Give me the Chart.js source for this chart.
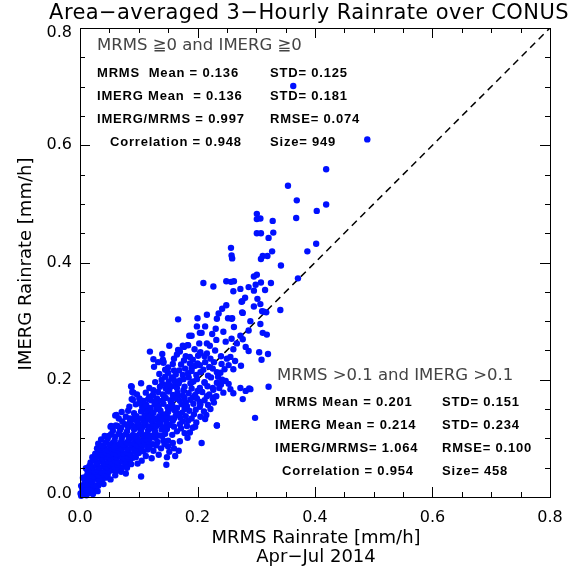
<!DOCTYPE html>
<html>
<head>
<meta charset="utf-8">
<script src="https://cdn.jsdelivr.net/npm/chart.js@4.4.1/dist/chart.umd.min.js"></script>
<style>
  html, body { margin: 0; padding: 0; background: #fff; }
  #wrap { width: 582px; height: 569px; }
</style>
</head>
<body>
<div id="wrap"><canvas id="rain" width="582" height="569"></canvas></div>
<script>
// Area-averaged 3-hourly rainrate, MRMS (x) vs IMERG (y), mm/h
// values, [mrms, imerg]

// dense cluster near the origin (imerg < 0.10)
const coreLow = [
  [0.002,0.002],[0.006,0.004],[0.011,0.003],[0.004,0.009],[0.009,0.008],[0.015,0.007],[0.019,0.010],[0.001,0.006],[0.013,0.011],
  [0.004,0.015],[0.010,0.016],[0.016,0.014],[0.022,0.013],[0.027,0.017],[0.007,0.022],[0.013,0.021],[0.019,0.023],[0.025,0.020],[0.031,0.019],[0.034,0.024],[0.002,0.019],
  [0.008,0.028],[0.014,0.030],[0.020,0.027],[0.026,0.031],[0.032,0.028],[0.038,0.030],[0.044,0.033],[0.011,0.036],[0.017,0.038],[0.023,0.035],[0.029,0.039],[0.035,0.036],[0.041,0.038],[0.047,0.037],[0.005,0.033],
  [0.013,0.044],[0.019,0.047],[0.025,0.043],[0.031,0.046],[0.037,0.042],[0.043,0.045],[0.049,0.043],[0.055,0.046],[0.061,0.044],[0.067,0.048],[0.016,0.053],[0.022,0.051],[0.028,0.054],[0.034,0.050],[0.040,0.053],[0.046,0.051],[0.052,0.054],[0.058,0.052],[0.064,0.055],[0.072,0.051],[0.010,0.049],
  [0.018,0.059],[0.024,0.062],[0.030,0.058],[0.036,0.061],[0.042,0.057],[0.048,0.060],[0.054,0.058],[0.060,0.062],[0.066,0.059],[0.072,0.061],[0.078,0.058],[0.085,0.063],[0.021,0.068],[0.027,0.066],[0.033,0.069],[0.039,0.065],[0.045,0.068],[0.051,0.066],[0.057,0.069],[0.063,0.067],[0.069,0.070],[0.075,0.066],[0.081,0.069],[0.090,0.067],
  [0.026,0.074],[0.032,0.077],[0.038,0.073],[0.044,0.076],[0.050,0.072],[0.056,0.075],[0.062,0.073],[0.068,0.077],[0.074,0.074],[0.080,0.076],[0.086,0.073],[0.093,0.077],[0.100,0.075],[0.108,0.078],
  [0.029,0.083],[0.035,0.081],[0.041,0.084],[0.047,0.080],[0.053,0.083],[0.059,0.081],[0.065,0.084],[0.071,0.082],[0.077,0.085],[0.083,0.081],[0.089,0.084],[0.096,0.082],[0.104,0.084],[0.115,0.081],
  [0.125,0.079],[0.138,0.083],[0.150,0.086],[0.152,0.077],[0.160,0.083],[0.168,0.079],[0.148,0.068],[0.134,0.072],[0.122,0.066],[0.112,0.070],[0.162,0.070],
  [0.031,0.091],[0.038,0.088],[0.044,0.093],[0.050,0.089],[0.056,0.092],[0.062,0.088],[0.068,0.091],[0.074,0.089],[0.080,0.093],[0.086,0.090],[0.092,0.092],[0.098,0.088],[0.104,0.091],[0.110,0.089],[0.117,0.093],[0.124,0.090],[0.132,0.094],
  [0.036,0.098],[0.047,0.099],[0.059,0.097],[0.071,0.099],[0.083,0.098],[0.095,0.099],[0.107,0.097],[0.119,0.100],[0.142,0.096],[0.158,0.092],[0.170,0.095],
  [0.104,0.035],[0.147,0.055],[0.207,0.092]
];

// extra points filling gaps in the solid part of the cloud
const coreFill = [
  [0.058,0.086],[0.070,0.094],[0.088,0.101],[0.100,0.097],[0.112,0.099],[0.128,0.101],[0.140,0.104],[0.150,0.096],[0.130,0.088],[0.144,0.090],[0.118,0.085],
  [0.095,0.068],[0.105,0.062],[0.087,0.056],[0.080,0.050],[0.098,0.057],[0.060,0.037],[0.052,0.030],[0.070,0.043],[0.078,0.040],[0.040,0.022],[0.030,0.010],[0.022,0.005],
  [0.100,0.118],[0.112,0.131],[0.124,0.117],[0.136,0.132],[0.148,0.116],[0.160,0.134],[0.172,0.117],[0.184,0.130],[0.194,0.141],[0.178,0.150],[0.166,0.142],[0.154,0.151],[0.142,0.141],[0.130,0.150],[0.118,0.143],
  [0.107,0.161],[0.118,0.171],[0.131,0.160],[0.143,0.172],[0.155,0.161],[0.167,0.173],[0.180,0.161],[0.192,0.170],[0.204,0.162],[0.216,0.172],[0.228,0.161],
  [0.125,0.182],[0.140,0.193],[0.152,0.183],[0.164,0.194],[0.176,0.182],[0.188,0.194],[0.200,0.181],[0.212,0.196],[0.226,0.186],[0.240,0.192],
  [0.145,0.217],[0.160,0.216],[0.175,0.208],[0.190,0.220],[0.205,0.213],[0.220,0.222],[0.233,0.213],
  [0.140,0.244],[0.160,0.236],[0.170,0.248],[0.195,0.252],[0.212,0.240],[0.230,0.250],[0.240,0.240],[0.264,0.232],
  [0.225,0.278],[0.248,0.265],[0.262,0.290],[0.290,0.300],[0.296,0.325]
];

// body of the cloud (imerg 0.10 - 0.25)
const coreMid = [
  [0.042,0.104],[0.053,0.107],[0.060,0.103],[0.066,0.108],[0.072,0.104],[0.078,0.107],[0.084,0.103],[0.090,0.106],[0.096,0.104],[0.102,0.108],[0.108,0.105],[0.114,0.107],[0.120,0.104],[0.127,0.108],[0.134,0.105],[0.145,0.108],[0.157,0.106],[0.183,0.101],
  [0.056,0.113],[0.068,0.114],[0.080,0.112],[0.092,0.115],[0.104,0.113],[0.116,0.114],[0.128,0.112],[0.139,0.115],[0.165,0.112],[0.178,0.109],[0.187,0.110],
  [0.052,0.120],[0.061,0.122],[0.070,0.118],[0.076,0.124],[0.082,0.119],[0.088,0.123],[0.094,0.120],[0.100,0.124],[0.106,0.119],[0.112,0.123],[0.118,0.120],[0.124,0.125],[0.130,0.121],[0.137,0.124],[0.144,0.119],[0.152,0.123],[0.160,0.120],[0.170,0.124],[0.182,0.121],[0.192,0.118],[0.196,0.120],
  [0.072,0.129],[0.085,0.128],[0.097,0.130],[0.109,0.128],[0.121,0.130],[0.133,0.129],[0.147,0.128],[0.158,0.130],[0.175,0.129],[0.198,0.127],[0.233,0.122],[0.213,0.133],
  [0.066,0.134],[0.078,0.137],[0.090,0.133],[0.096,0.138],[0.103,0.134],[0.110,0.139],[0.116,0.135],[0.122,0.140],[0.128,0.134],[0.135,0.138],[0.141,0.133],[0.148,0.137],[0.155,0.134],[0.163,0.139],[0.171,0.135],[0.180,0.138],[0.190,0.134],[0.205,0.137],[0.215,0.140],
  [0.071,0.145],[0.082,0.147],[0.092,0.143],[0.104,0.146],[0.113,0.148],[0.125,0.144],[0.137,0.147],[0.150,0.145],[0.161,0.148],[0.174,0.144],[0.186,0.147],[0.197,0.149],[0.211,0.146],[0.222,0.150],
  [0.084,0.154],[0.095,0.158],[0.106,0.153],[0.113,0.157],[0.120,0.152],[0.127,0.158],[0.134,0.154],[0.142,0.159],[0.149,0.153],[0.157,0.157],[0.165,0.152],[0.173,0.158],[0.182,0.155],[0.193,0.159],[0.204,0.154],[0.218,0.157],[0.205,0.158],
  [0.090,0.166],[0.121,0.165],[0.131,0.168],[0.139,0.164],[0.146,0.169],[0.154,0.165],[0.162,0.168],[0.170,0.164],[0.178,0.169],[0.188,0.166],[0.199,0.168],[0.212,0.165],[0.226,0.167],[0.228,0.170],
  [0.097,0.175],[0.112,0.178],[0.124,0.174],[0.133,0.179],[0.141,0.175],[0.150,0.180],[0.158,0.174],[0.166,0.178],[0.175,0.173],[0.185,0.177],[0.196,0.174],[0.208,0.179],[0.220,0.175],[0.232,0.172],
  [0.118,0.186],[0.136,0.188],[0.146,0.185],[0.156,0.189],[0.165,0.186],[0.178,0.188],[0.190,0.185],[0.217,0.189],
  [0.104,0.194],[0.128,0.196],[0.139,0.200],[0.151,0.197],[0.158,0.203],[0.170,0.199],[0.185,0.204],[0.199,0.201],[0.223,0.204],
  [0.135,0.210],[0.150,0.212],[0.163,0.209],[0.184,0.211],[0.198,0.208],[0.218,0.207],[0.235,0.205],[0.248,0.198],
  [0.126,0.222],[0.133,0.230],[0.150,0.221],[0.158,0.227],[0.172,0.226],[0.187,0.228],[0.196,0.224],[0.213,0.230],[0.222,0.236],[0.180,0.240],[0.205,0.247],[0.246,0.218],[0.253,0.225]
];

// individually read points around the edges of the cloud
const edgePoints = [
  [0.049,0.104],[0.060,0.139],[0.053,0.121],[0.064,0.121],[0.085,0.134],[0.098,0.128],[0.062,0.140],
  [0.087,0.189],[0.089,0.179],[0.091,0.178],[0.088,0.188],[0.101,0.168],[0.108,0.164],[0.101,0.160],[0.116,0.167],[0.128,0.162],[0.102,0.166],[0.088,0.167],
  [0.145,0.205],[0.156,0.204],[0.148,0.191],[0.161,0.198],[0.168,0.194],[0.176,0.201],
  [0.169,0.216],[0.179,0.219],[0.190,0.215],[0.204,0.225],[0.210,0.217],[0.226,0.219],[0.239,0.212],[0.242,0.200],[0.233,0.195],
  [0.193,0.197],[0.204,0.186],[0.212,0.195],[0.227,0.183],[0.237,0.186],[0.244,0.178],[0.253,0.193],[0.256,0.184],[0.261,0.177],[0.277,0.167],
  [0.273,0.186],[0.288,0.185],[0.282,0.181],[0.321,0.188],[0.290,0.184],[0.298,0.135],[0.233,0.122],
  [0.141,0.234],[0.142,0.229],[0.125,0.235],[0.142,0.231],[0.165,0.243],[0.177,0.233],[0.192,0.234],[0.201,0.241],[0.216,0.245],[0.228,0.230],[0.241,0.227],
  [0.250,0.236],[0.256,0.239],[0.261,0.218],[0.274,0.224],[0.187,0.239],[0.200,0.228],[0.204,0.245],
  [0.119,0.248],[0.152,0.258],[0.167,0.251],[0.177,0.256],[0.184,0.259],[0.175,0.258],[0.183,0.259],[0.221,0.258],
  [0.258,0.270],[0.267,0.262],[0.261,0.252],[0.282,0.256],[0.287,0.249],[0.305,0.247],[0.320,0.244],[0.309,0.234],
  [0.203,0.262],[0.216,0.262],[0.232,0.268],[0.186,0.275],[0.207,0.280],[0.190,0.275],[0.204,0.280],[0.244,0.282],
  [0.273,0.275],[0.277,0.269],[0.287,0.284],[0.311,0.280],[0.318,0.277],[0.307,0.295],
  [0.199,0.291],[0.213,0.291],[0.231,0.287],[0.233,0.304],[0.259,0.305],[0.252,0.305],[0.258,0.304],
  [0.167,0.303],[0.200,0.305],[0.216,0.311],[0.236,0.313],[0.242,0.321],[0.249,0.327],[0.276,0.315],[0.277,0.314],
  [0.310,0.317],[0.317,0.315],[0.313,0.316],[0.341,0.319],[0.307,0.329],[0.276,0.334],[0.281,0.340],[0.275,0.333],
  [0.302,0.338],[0.296,0.352],[0.315,0.353],[0.261,0.351],[0.273,0.355],[0.287,0.358],
  [0.210,0.365],[0.227,0.359],[0.249,0.368],[0.257,0.367],[0.262,0.368],[0.296,0.376],[0.301,0.379],[0.299,0.362],[0.308,0.366],[0.325,0.365],[0.371,0.373]
];

// upper part: the few large events
const upperPoints = [
  [0.342,0.395],[0.257,0.425],[0.258,0.412],[0.259,0.407],[0.387,0.419],[0.402,0.432],[0.311,0.411],[0.319,0.411],[0.308,0.406],[0.327,0.419],
  [0.301,0.450],[0.308,0.450],[0.329,0.451],[0.321,0.442],
  [0.301,0.483],[0.301,0.474],[0.307,0.475],[0.328,0.471],[0.368,0.476],[0.403,0.488],[0.419,0.499],[0.369,0.506],[0.354,0.531],[0.419,0.559],
  [0.489,0.610],[0.363,0.701]
];

const scatterPoints = [...coreLow, ...coreFill, ...coreMid, ...edgePoints, ...upperPoints];

// 1:1 reference line
const oneToOne = [0.0, 0.8];

// axes
const axisMin = 0.0;
const axisMax = 0.8;
const majorTicks = [0.0, 0.2, 0.4, 0.6, 0.8];
const majorLabels = ['0.0', '0.2', '0.4', '0.6', '0.8'];
const minorTicks = [0.05, 0.1, 0.15, 0.25, 0.3, 0.35, 0.45, 0.5, 0.55, 0.65, 0.7, 0.75];

// texts
const chartTitle = 'Area\u2212averaged 3\u2212Hourly Rainrate over CONUS';
const xTitle = 'MRMS Rainrate [mm/h]';
const xSubTitle = 'Apr\u2212Jul 2014';
const yTitle = 'IMERG Rainrate [mm/h]';

const allHeader = 'MRMS \u22670 and IMERG \u22670';
const allLeft = ['MRMS  Mean = 0.136', 'IMERG Mean  = 0.136', 'IMERG/MRMS = 0.997', 'Correlation = 0.948'];
const allRight = ['STD= 0.125', 'STD= 0.181', 'RMSE= 0.074', 'Size= 949'];

const wetHeader = 'MRMS >0.1 and IMERG >0.1';
const wetLeft = ['MRMS Mean = 0.201', 'IMERG Mean = 0.214', 'IMERG/MRMS= 1.064', 'Correlation = 0.954'];
const wetRight = ['STD= 0.151', 'STD= 0.234', 'RMSE= 0.100', 'Size= 458'];

const FONT = '"DejaVu Sans", "Liberation Sans", sans-serif';
const STAT_FONT = 'bold 13px "Liberation Sans", Arial, sans-serif';

// draws the box, inward ticks on all four sides, labels and the text blocks
const framePlugin = {
  id: 'frame',
  afterDraw(chart) {
    const { ctx, chartArea: a, scales } = chart;
    const xs = scales.x, ys = scales.y;
    ctx.save();

    ctx.strokeStyle = '#000';
    ctx.lineWidth = 1;
    ctx.strokeRect(a.left + 0.5, a.top + 0.5, a.right - a.left, a.bottom - a.top);

    const tick = (v, len) => {
      const px = Math.round(xs.getPixelForValue(v)) + 0.5;
      const py = Math.round(ys.getPixelForValue(v)) + 0.5;
      ctx.beginPath();
      ctx.moveTo(px, a.bottom); ctx.lineTo(px, a.bottom - len);
      ctx.moveTo(px, a.top); ctx.lineTo(px, a.top + len);
      ctx.moveTo(a.left, py); ctx.lineTo(a.left + len, py);
      ctx.moveTo(a.right, py); ctx.lineTo(a.right - len, py);
      ctx.stroke();
    };
    majorTicks.forEach(v => tick(v, 10));
    minorTicks.forEach(v => tick(v, 5));

    ctx.fillStyle = '#000';
    ctx.font = '16px ' + FONT;
    ctx.textBaseline = 'middle';
    majorTicks.forEach((v, i) => {
      ctx.textAlign = 'center';
      ctx.fillText(majorLabels[i], xs.getPixelForValue(v), a.bottom + 21);
      ctx.textAlign = 'right';
      ctx.fillText(majorLabels[i], a.left - 8, Math.min(ys.getPixelForValue(v), a.bottom - 3) + (i === 4 ? 5 : 0));
    });

    // titles
    ctx.textAlign = 'center';
    ctx.font = '21px ' + FONT;
    ctx.letterSpacing = '0.4px';
    ctx.fillText(chartTitle, 309, 14);
    ctx.letterSpacing = '0px';
    ctx.font = '18px ' + FONT;
    const cx = (a.left + a.right) / 2 + 1;
    ctx.fillText(xTitle, cx, a.bottom + 41);
    ctx.fillText(xSubTitle, cx, a.bottom + 60);
    ctx.save();
    ctx.translate(26, 264);
    ctx.rotate(-Math.PI / 2);
    ctx.fillText(yTitle, 0, 0);
    ctx.restore();

    // statistics blocks
    const block = (header, hx, hy, left, lx, right, rx, y0) => {
      ctx.textAlign = 'left';
      ctx.fillStyle = '#444';
      ctx.font = '16.5px ' + FONT;
      ctx.fillText(header, hx, hy);
      ctx.fillStyle = '#000';
      ctx.font = STAT_FONT;
      ctx.letterSpacing = '0.8px';
      left.forEach((t, i) => {
        ctx.fillText(t, lx[i], y0 + i * 23.2);
        ctx.fillText(right[i], rx, y0 + i * 23.2);
      });
      ctx.letterSpacing = '0px';
    };
    block(allHeader, 97, 46, allLeft, [97, 97, 97, 110], allRight, 270, 73);
    block(wetHeader, 277, 376, wetLeft, [275, 275, 275, 282], wetRight, 442, 402);

    ctx.restore();
  }
};

new Chart(document.getElementById('rain').getContext('2d'), {
  type: 'scatter',
  data: {
    datasets: [
      {
        type: 'line',
        data: oneToOne.map(v => ({ x: v, y: v })),
        borderColor: '#000',
        borderWidth: 1.5,
        borderDash: [7, 5],
        pointRadius: 0,
        fill: false,
        order: 1
      },
      {
        data: scatterPoints.map(p => ({ x: p[0], y: p[1] })),
        backgroundColor: '#0010ff',
        borderWidth: 0,
        pointRadius: 3.2,
        clip: 4,
        order: 0
      }
    ]
  },
  options: {
    responsive: false,
    animation: false,
    layout: { padding: { left: 80, right: 32, top: 28, bottom: 72 } },
    plugins: { legend: { display: false }, tooltip: { enabled: false } },
    scales: {
      x: { type: 'linear', min: axisMin, max: axisMax, display: false },
      y: { type: 'linear', min: axisMin, max: axisMax, display: false }
    }
  },
  plugins: [framePlugin]
});
</script>
</body>
</html>
